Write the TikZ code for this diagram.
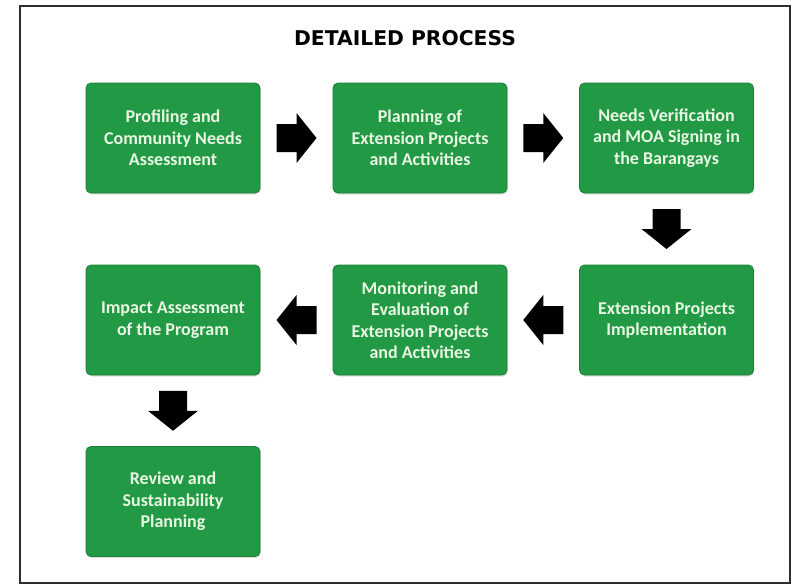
\documentclass[tikz,border=0pt]{standalone}
\usepackage{fontspec}
\setmainfont{Carlito}
\newfontfamily\titlefont{DejaVu Sans}
\usetikzlibrary{calc,shadows}
\definecolor{boxgreen}{HTML}{229A45}
\definecolor{boxedge}{HTML}{1A7F37}
\definecolor{boxtext}{HTML}{EAF6E4}
\definecolor{framegray}{HTML}{2E2E2E}
\tikzset{
  stepbox/.style={rectangle, rounded corners=5pt, fill=boxgreen, draw=boxedge, line width=0.8pt,
    minimum width=174pt, minimum height=110pt, inner sep=0pt, align=center,
    text=boxtext, font=\fontsize{18}{21.5}\selectfont\bfseries,
    drop shadow={opacity=0.25, shadow xshift=0.8pt, shadow yshift=-1.5pt}},
  pics/blkarrow/.style={code={
    \fill[black] (-20,-14) -- (0,-14) -- (0,-25) -- (20,0) -- (0,25) -- (0,14) -- (-20,14) -- cycle;}}
}
\begin{document}
\begin{tikzpicture}[x=1pt,y=-1pt]
\useasboundingbox (0,0) rectangle (794,587);
\fill[white] (0,0) rectangle (794,587);
\draw[framegray, line width=2.5pt] (20,6) rectangle (790,583);
\node[font=\titlefont\bfseries\fontsize{20.3}{24}\selectfont] (title) at (405,38) {DETAILED PROCESS};
\node[stepbox] (b1) at (173,138) {Profiling and\\Community Needs\\Assessment};
\node[stepbox] (b2) at (420,138) {Planning of\\Extension Projects\\and Activities};
\node[stepbox] (b3) at (666.5,138) {Needs Verification\\and MOA Signing in\\the Barangays};
\node[stepbox] (b6) at (666.5,320) {Extension Projects\\Implementation};
\node[stepbox] (b5) at (420,320) {Monitoring and\\Evaluation of\\Extension Projects\\and Activities};
\node[stepbox] (b4) at (173,320) {Impact Assessment\\of the Program};
\node[stepbox] (b7) at (173,501.5) {Review and\\Sustainability\\Planning};
\path ($(b1.east)!0.5!(b2.west)$) pic {blkarrow};
\path ($(b2.east)!0.5!(b3.west)$) pic {blkarrow};
\path ($(b3.south)!0.5!(b6.north)$) pic[rotate=-90] {blkarrow};
\path ($(b6.west)!0.5!(b5.east)$) pic[rotate=180] {blkarrow};
\path ($(b5.west)!0.5!(b4.east)$) pic[rotate=180] {blkarrow};
\path ($(b4.south)!0.5!(b7.north)$) pic[rotate=-90] {blkarrow};
\end{tikzpicture}
\end{document}
